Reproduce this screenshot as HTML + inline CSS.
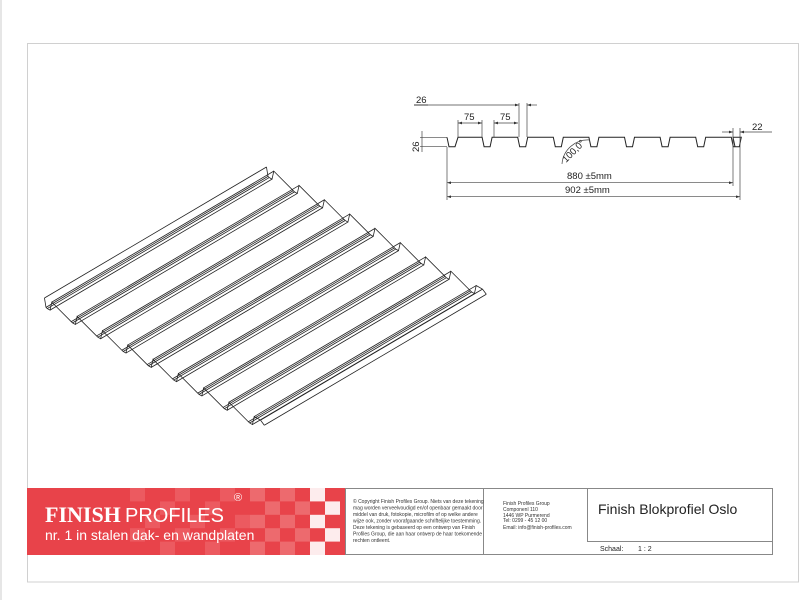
<!DOCTYPE html>
<html><head><meta charset="utf-8"><style>
body{margin:0;width:800px;height:600px;background:#fff;overflow:hidden;font-family:"Liberation Sans",sans-serif;}
svg{position:absolute;left:0;top:0}
</style></head><body>
<svg id="s" width="800" height="600" viewBox="0 0 800 600" xmlns="http://www.w3.org/2000/svg">
<defs>
<marker id="a" markerWidth="6" markerHeight="4" refX="6" refY="2" orient="auto-start-reverse"><path d="M0,0 L6,2 L0,4 z" fill="#333"/></marker>
</defs>
<line x1="1" y1="0" x2="1" y2="600" stroke="#ccc"/>
<rect x="27.5" y="43.5" width="771" height="538.5" fill="none" stroke="#d0d0d0"/>
<rect x="27" y="488" width="318" height="67" fill="#e8434a"/>
<g id="checks"></g>
<rect x="345.5" y="488.5" width="427" height="66" fill="none" stroke="#888"/>
<line x1="483.5" y1="488" x2="483.5" y2="555" stroke="#888"/>
<line x1="587.5" y1="488" x2="587.5" y2="541" stroke="#888"/>
<line x1="587" y1="541.5" x2="772" y2="541.5" stroke="#888"/>
<text x="45" y="522" font-family="Liberation Serif,serif" font-weight="bold" font-size="22" fill="#fff">FINISH</text>
<text x="125" y="522" font-size="20" fill="#fff">PROFILES</text>
<text x="234" y="501" font-size="11" fill="#fff">®</text>
<text x="45" y="540" font-size="14" fill="#fff">nr. 1 in stalen dak- en wandplaten</text>
<g font-size="5" fill="#333">
<text x="353" y="503">© Copyright Finish Profiles Group. Niets van deze tekening</text>
<text x="353" y="509.5">mag worden verveelvoudigd en/of openbaar gemaakt door</text>
<text x="353" y="516">middel van druk, fotokopie, microfilm of op welke andere</text>
<text x="353" y="522.5">wijze ook, zonder voorafgaande schriftelijke toestemming.</text>
<text x="353" y="529">Deze tekening is gebaseerd op een ontwerp van Finish</text>
<text x="353" y="535.5">Profiles Group, die aan haar ontwerp de haar toekomende</text>
<text x="353" y="542">rechten ontleent.</text>
<text x="503" y="505">Finish Profiles Group</text>
<text x="503" y="511">Componenl 110</text>
<text x="503" y="517">1446 WP Purmerend</text>
<text x="503" y="522">Tel: 0299 - 45 12 00</text>
<text x="503" y="529">Email: info@finish-profiles.com</text>
</g>
<text x="598" y="514" font-size="14" fill="#222">Finish Blokprofiel Oslo</text>
<text x="600" y="551" font-size="7" fill="#222">Schaal:</text>
<text x="638" y="551" font-size="7" fill="#222">1 : 2</text>
<polyline id="prof" fill="none" stroke="#222" stroke-width="1"/>
<g stroke="#444" stroke-width="0.7" fill="none">
<line x1="447" y1="147" x2="447" y2="200"/>
<line x1="733" y1="147" x2="733" y2="186"/>
<line x1="740" y1="147" x2="740" y2="200"/>
<line x1="447" y1="182.7" x2="733" y2="182.7" marker-start="url(#a)" marker-end="url(#a)"/>
<line x1="447" y1="196.7" x2="740" y2="196.7" marker-start="url(#a)" marker-end="url(#a)"/>
<line x1="414" y1="105" x2="519" y2="105" marker-end="url(#a)"/>
<line x1="527" y1="105" x2="537" y2="105" marker-start="url(#a)"/>
<line x1="519" y1="103" x2="519" y2="137"/>
<line x1="527" y1="103" x2="527" y2="137"/>
<line x1="458" y1="120" x2="458" y2="137"/>
<line x1="482" y1="120" x2="482" y2="137"/>
<line x1="494" y1="120" x2="494" y2="137"/>
<line x1="458" y1="123" x2="482" y2="123" marker-start="url(#a)" marker-end="url(#a)"/>
<line x1="494" y1="123" x2="518" y2="123" marker-start="url(#a)" marker-end="url(#a)"/>
<line x1="420" y1="137.3" x2="447" y2="137.3"/>
<line x1="420" y1="146.7" x2="447" y2="146.7"/>
<line x1="422" y1="131" x2="422" y2="152"/>
<line x1="733" y1="128" x2="733" y2="147"/>
<line x1="740" y1="128" x2="740" y2="147"/>
<line x1="722" y1="132" x2="733" y2="132" marker-end="url(#a)"/>
<line x1="772" y1="132" x2="740" y2="132" marker-end="url(#a)"/>
<path d="M562,164 A26,26 0 0 1 590,140" />
</g>
<g font-size="9.5" fill="#222">
<text x="416" y="103">26</text>
<line x1="414" y1="105" x2="428" y2="105" stroke="#222" stroke-width="0.7"/>
<text x="464" y="120">75</text>
<text x="500" y="120">75</text>
<text x="752" y="130">22</text>
<text x="0" y="0" transform="translate(419,152) rotate(-90)">26</text>
<text x="0" y="0" transform="translate(566,163) rotate(-45)">100,0°</text>
<text x="567" y="179">880 ±5mm</text>
<text x="565" y="193">902  ±5mm</text>
</g>
<g id="iso" stroke="#222" stroke-width="0.8" fill="none"></g>
</svg>
<script>
var NS="http://www.w3.org/2000/svg";
function el(p,n,a){var e=document.createElementNS(NS,n);for(var k in a)e.setAttribute(k,a[k]);p.appendChild(e);return e;}
var c=document.getElementById("checks");
var cols=[250,265,280,295,310,325];
for(var i=0;i<6;i++)for(var j=0;j<5;j++){if((i+j)%2==0)el(c,"rect",{x:cols[i],y:488+j*13.4,width:15,height:13.4,fill:(i>=4?"#fff":"#f07a7e"),opacity:(i>=4?0.9:0.7)});}
for(var i=0;i<8;i++)for(var j=0;j<5;j++){if((i+j)%3==0)el(c,"rect",{x:130+i*15,y:488+j*13.4,width:15,height:13.4,fill:"#ee6a6f",opacity:0.6});}
var pts=[[447,137.3],[449,146.7],[455,146.7],[458,137.3]];
for(var k=1;k<9;k++){var x=448+k*35.6;pts.push([x-1.5,137.3],[x+0.5,146.7],[x+6.5,146.7],[x+8.5,137.3]);}
pts.push([733,137.3],[735,146.7],[740,146.7]);
document.getElementById("prof").setAttribute("points",pts.map(function(p){return p.join(",")}).join(" "));
var g=document.getElementById("iso");
var O=[48,309],U=[25.3,14.3],L=[222,-131],H=9;
function P(t,h){return [O[0]+U[0]*t,O[1]+U[1]*t-h];}
var prof=[[-0.14,H]];
for(var i=0;i<9;i++){prof.push([i-0.08,0.5],[i-0.03,0],[i+0.08,0],[i+0.15,H]);}
prof.push([8.4,H],[8.55,H-3]);
var front=prof.map(function(q){return P(q[0],q[1]);});
var back=front.map(function(p){return [p[0]+L[0],p[1]+L[1]];});
el(g,"polyline",{points:front.map(function(p){return p.join(",")}).join(" ")});
el(g,"polyline",{points:back.map(function(p){return p.join(",")}).join(" ")});
front.forEach(function(p,k){el(g,"line",{x1:p[0],y1:p[1],x2:back[k][0],y2:back[k][1]});});
</script>
</body></html>
